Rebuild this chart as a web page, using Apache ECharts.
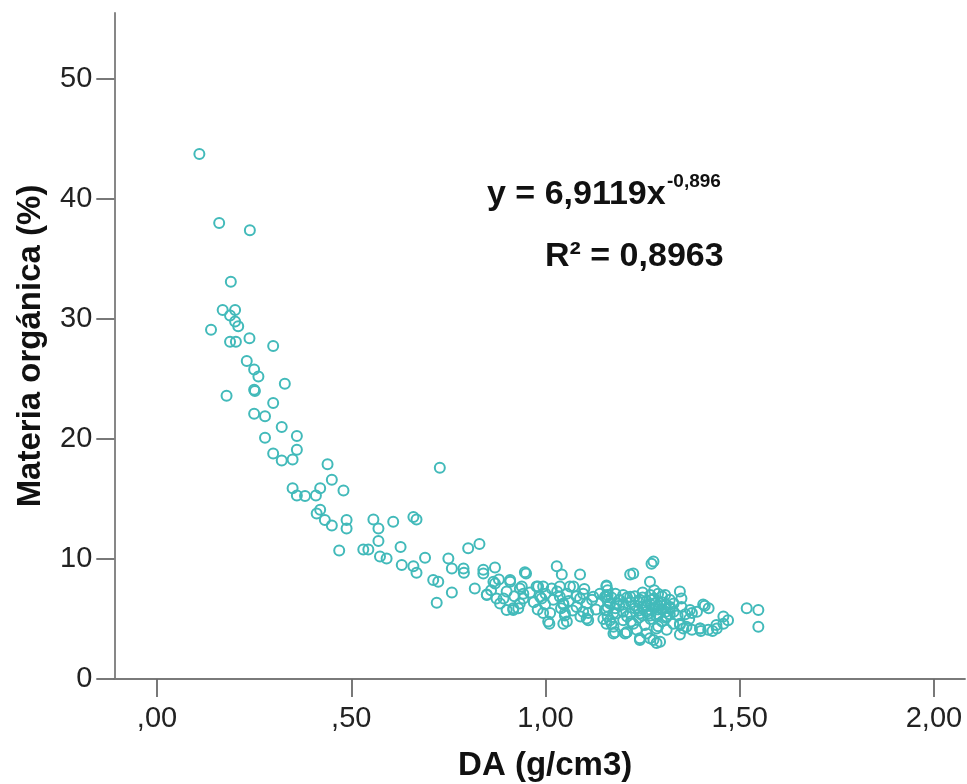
<!DOCTYPE html>
<html>
<head>
<meta charset="utf-8">
<script src="https://cdn.jsdelivr.net/npm/echarts@6/dist/echarts.min.js"></script>
<style>html,body{margin:0;padding:0;background:#fff}#c{width:967px;height:784px}</style>
</head>
<body>
<div id="c"></div>
<script>
// Densidad aparente (g/cm3)
var daValues = [
0.109,0.160,0.239,0.190,0.169,0.201,0.188,0.201,0.139,0.209,0.188,0.203,0.238,0.299,0.231,0.250,0.261,0.250,0.252,0.329,
0.179,0.299,0.250,0.278,0.321,0.278,0.360,0.299,0.321,0.349,0.360,0.439,0.450,0.480,0.349,0.360,0.381,0.409,0.420,0.420,
0.411,0.432,0.450,0.488,0.488,0.557,0.570,0.608,0.570,0.531,0.544,0.469,0.574,0.591,0.627,0.728,0.660,0.668,0.690,0.630,
0.660,0.668,0.750,0.759,0.789,0.790,0.801,0.830,0.711,0.724,0.759,0.720,0.818,0.840,0.870,0.870,0.849,0.874,0.883,0.900,
0.917,0.909,0.950,0.939,0.943,0.934,0.977,0.994,0.986,0.999,1.012,1.010,1.029,1.042,1.037,1.055,1.046,1.050,1.055,1.089,
1.072,1.097,1.106,1.080,1.110,1.110,1.157,1.157,1.166,1.157,1.175,1.166,1.175,1.175,1.205,1.218,1.278,1.226,1.269,1.157,
1.346,1.350,1.308,1.406,1.518,1.548,1.548,1.458,1.458,1.441,1.419,1.398,1.377,1.355,1.377,1.346,1.346,1.243,1.269,1.286,
1.209,1.235,
0.840,0.866,0.909,0.947,0.849,0.892,0.917,0.934,0.943,0.981,0.990,0.994,1.007,1.037,1.046,1.050,1.046,1.089,1.097,1.106,
1.063,1.016,
1.273,1.123,1.153,1.183,1.218,1.243,1.273,1.295,1.321,1.372,1.153,1.183,1.218,1.243,1.265,1.286,1.312,1.329,1.346,1.363,
1.398,1.179,1.209,1.243,1.278,1.295,1.157,1.149,1.200,1.226,1.256,1.286,1.312,
1.170,1.200,1.250,1.280,1.300,1.260,1.230,1.290,1.310,1.270,1.240,1.320,1.190,1.280,1.300,1.410,1.430,1.400,1.260,1.290,
1.16,1.16,1.16,1.16,1.16,1.17,1.18,1.18,1.19,1.20,1.20,1.21,1.21,1.22,1.22,1.23,1.23,1.24,1.24,1.25,
1.25,1.25,1.26,1.26,1.27,1.27,1.27,1.28,1.28,1.29,1.29,1.29,1.30,1.30,1.31,1.31,1.32,1.32,1.33,1.33,
1.34,1.35,1.36,1.37,1.39,1.42,1.44,1.47,
0.86,0.88,0.90,0.92,0.93,0.96,0.97,0.98,1.00,1.02,1.03,1.04,1.06,1.07,1.08,1.09,1.10,1.12,1.13,1.14
];
// Materia orgánica (%)
var moValues = [
43.75,38.0,37.4,33.1,30.75,30.75,30.3,29.8,29.1,29.4,28.1,28.1,28.4,27.75,26.5,25.8,25.2,24.1,24.0,24.6,
23.6,23.0,22.1,21.9,21.0,20.1,20.25,18.8,18.2,18.3,19.1,17.9,16.6,15.7,15.9,15.3,15.25,15.3,15.9,14.1,
13.8,13.25,12.8,13.25,12.55,13.3,12.55,13.1,11.5,10.8,10.8,10.7,10.2,10.05,11.0,17.6,13.5,13.3,10.1,9.5,
9.4,8.85,10.05,9.2,9.2,8.85,10.9,11.25,8.25,8.1,7.2,6.35,7.55,8.8,9.3,7.95,7.0,6.7,6.3,5.75,
5.75,8.1,8.8,7.7,7.1,6.3,7.7,7.7,6.85,6.2,5.5,4.6,9.4,8.7,7.7,7.1,6.3,5.5,4.8,8.7,
7.7,7.1,6.3,6.0,5.5,4.9,7.7,6.85,6.3,5.75,5.5,4.9,4.35,3.8,3.8,8.7,9.8,8.8,8.1,7.8,
7.3,6.7,7.0,6.2,5.9,5.75,4.35,5.2,4.6,4.2,4.1,4.2,4.1,4.2,5.5,4.5,3.7,3.4,3.4,3.0,
3.9,4.1,
9.1,8.1,8.25,8.9,7.05,6.7,5.9,7.55,6.7,7.7,6.7,5.5,4.8,6.85,6.2,5.3,4.6,6.7,5.6,5.05,
7.7,7.55,
9.6,6.85,6.85,6.3,6.85,6.6,6.6,6.3,6.0,5.75,5.75,5.45,5.45,5.45,5.45,5.2,5.2,4.6,4.6,4.35,
4.2,3.9,3.9,3.25,3.25,3.1,4.6,5.0,4.9,4.6,4.5,4.2,4.1,
6.8,7.0,7.2,7.4,6.9,6.1,5.9,5.8,5.6,5.0,5.1,5.4,6.1,6.3,4.8,6.1,4.0,4.0,3.8,4.4,
7.4,7.0,6.5,6.0,5.2,4.6,7.1,5.9,6.6,6.2,5.6,6.8,5.2,6.4,4.8,6.9,6.1,5.7,6.4,6.0,
5.3,6.8,6.5,5.6,6.2,7.0,5.3,5.9,6.7,6.1,5.4,7.1,6.4,5.8,6.2,5.1,6.6,5.9,5.6,6.3,
5.3,6.0,5.4,5.0,5.6,5.9,4.5,4.9,
7.4,8.3,7.3,6.9,5.9,7.2,6.4,5.8,7.1,6.6,7.3,5.9,6.5,5.7,6.9,5.2,7.5,6.6,5.8,7.1
];
var xTicks = [0, 0.5, 1, 1.5, 2];
var yTicks = [0, 10, 20, 30, 40, 50];
var eqMain = 'y = 6,9119x';
var eqExp = '-0,896';
var r2Text = 'R\u00B2 = 0,8963';

var points = daValues.map(function (d, i) { return [d, moValues[i]]; });
var FONT = '"Liberation Sans", Arial, Helvetica, sans-serif';

function fmtX(v) {
  var s = v.toFixed(2).replace('.', ',');
  if (s.charAt(0) === '0') s = s.substring(1);
  return s;
}

var chart = echarts.init(document.getElementById('c'), null, {renderer: 'canvas'});
chart.setOption({
  backgroundColor: '#ffffff',
  animation: false,
  grid: {left: 114.3, right: 2, top: 13, bottom: 105, containLabel: false, outerBoundsMode: 'none'},
  xAxis: {
    type: 'value', min: -0.11, max: 2.08,
    splitLine: {show: false},
    axisLine: {show: true, onZero: true, lineStyle: {color: '#7a7a7a', width: 1.8}},
    axisTick: {show: true, length: 18, customValues: xTicks, lineStyle: {color: '#6a6a6a', width: 1.8}},
    axisLabel: {customValues: xTicks, formatter: fmtX, margin: 25, fontSize: 29, color: '#222', fontFamily: FONT},
    name: 'DA (g/cm3)', nameLocation: 'middle', nameGap: 70,
    nameTextStyle: {fontSize: 33, fontWeight: 'bold', color: '#111', fontFamily: FONT, padding: [0, 0, 0, 11]}
  },
  yAxis: {
    type: 'value', min: 0, max: 55.5,
    splitLine: {show: false},
    axisLine: {show: true, onZero: false, lineStyle: {color: '#7a7a7a', width: 1.8}},
    axisTick: {show: true, length: 18, customValues: yTicks, lineStyle: {color: '#6a6a6a', width: 1.8}},
    axisLabel: {customValues: yTicks, margin: 22, fontSize: 29, color: '#222', fontFamily: FONT},
    name: 'Materia orgánica (%)', nameLocation: 'middle', nameGap: 67, nameRotate: 90,
    nameTextStyle: {fontSize: 33, fontWeight: 'bold', color: '#111', fontFamily: FONT}
  },
  series: [{
    type: 'scatter',
    data: points,
    symbol: 'circle',
    symbolSize: 10,
    itemStyle: {color: 'rgba(0,0,0,0)', borderColor: '#42baba', borderWidth: 2, opacity: 1}
  }],
  graphic: [
    {type: 'text', left: 487, top: 178, style: {text: eqMain, font: 'bold 34px ' + FONT, fill: '#111'}},
    {type: 'text', left: 667, top: 172, style: {text: eqExp, font: 'bold 19px ' + FONT, fill: '#111'}},
    {type: 'text', left: 545, top: 240, style: {text: r2Text, font: 'bold 34px ' + FONT, fill: '#111'}}
  ]
});
</script>
</body>
</html>
